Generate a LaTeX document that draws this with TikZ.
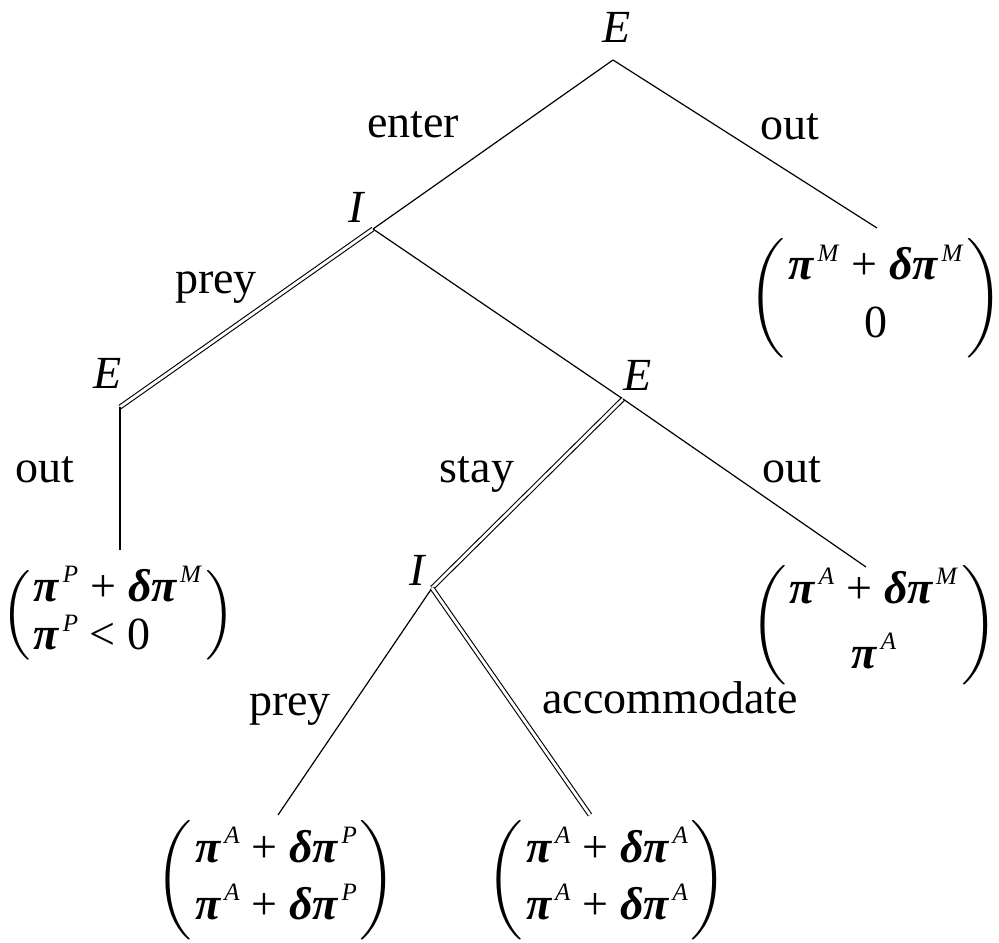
\documentclass[tikz,border=0pt]{standalone}
\usepackage{exscale}
\usepackage{fontspec}
\setmainfont{Liberation Serif}
\newcommand{\supit}[1]{\raisebox{0.4em}{\fontsize{12.5}{12.5}\selectfont\textit{#1}}}
\newcommand{\pis}[1]{\textbf{\textit{π}}\hspace{1.5pt}\supit{#1}}
\newcommand{\dpis}[1]{\textbf{\textit{δπ}}\hspace{1.5pt}\supit{#1}}
\newcommand{\plus}{\hspace{6pt}+\hspace{6pt}}
\newcommand{\payoff}[4]{$\left(\begin{array}{#1}\mbox{#3}\\[#2]\mbox{#4}\end{array}\right)$}
\setlength{\arraycolsep}{1.5pt}
\begin{document}
\begin{tikzpicture}[x=0.5pt,y=-0.5pt,
  every node/.style={font=\fontsize{23}{23}\selectfont, inner sep=0pt},
  lbl/.style={anchor=base},
  gain/.style={anchor=north},
  branch/.style={line width=0.6pt},
  equil/.style={double, double distance=1.4pt, line width=0.55pt}]
  \useasboundingbox (0,0) rectangle (999,942);

  % Sommets
  \coordinate (e1) at (613,60);
  \coordinate (i1) at (373,229);
  \coordinate (e2) at (120,407);
  \coordinate (e3) at (623,399);
  \coordinate (i2) at (432,588);
  % Feuilles
  \coordinate (f1) at (877,228);
  \coordinate (f2) at (120,550);
  \coordinate (f3) at (866,567);
  \coordinate (f4) at (278,815);
  \coordinate (f5) at (590,815);

  % Joueurs
  \node[lbl] (le1) at (617,42) {\textit{E}};
  \node[lbl] (li1) at (357,222) {\textit{I}};
  \node[lbl] (le2) at (108,388) {\textit{E}};
  \node[lbl] (le3) at (638,390) {\textit{E}};
  \node[lbl] (li2) at (418,585) {\textit{I}};

  % Branches
  \draw[branch] (e1) -- (i1);
  \draw[branch] (e1) -- (f1);
  \draw[equil] (i1) -- (e2);
  \draw[branch] (i1) -- (e3);
  \draw[branch] (e2) -- (f2);
  \draw[equil] (e3) -- (i2);
  \draw[branch] (e3) -- (f3);
  \draw[branch] (i2) -- (f4);
  \draw[equil] (i2) -- (f5);

  % Actions
  \node[lbl] (aenter) at (413,137) {enter};
  \node[lbl] (aout1) at (790,139) {out};
  \node[lbl] (aprey1) at (216,293) {prey};
  \node[lbl] (aout2) at (45,482) {out};
  \node[lbl] (astay) at (477,482) {stay};
  \node[lbl] (aout3) at (792,482) {out};
  \node[lbl] (aprey2) at (290,715) {prey};
  \node[lbl] (aacc) at (670,713) {accommodate};

  % Gains
  \node[gain] (p1) at (876,238) {\payoff{c}{6pt}{\pis{M}\plus\dpis{M}}{0}};
  \node[gain] (p2) at (118,566) {\payoff{l}{0pt}{\pis{P}\plus\dpis{M}}{\pis{P} < 0}};
  \node[gain] (p3) at (874,565) {\payoff{c}{8pt}{\pis{A}\plus\dpis{M}}{\pis{A}}};
  \node[gain] (p4) at (276,820) {\payoff{c}{4pt}{\pis{A}\plus\dpis{P}}{\pis{A}\plus\dpis{P}}};
  \node[gain] (p5) at (607,820) {\payoff{c}{4pt}{\pis{A}\plus\dpis{A}}{\pis{A}\plus\dpis{A}}};
\end{tikzpicture}
\end{document}
